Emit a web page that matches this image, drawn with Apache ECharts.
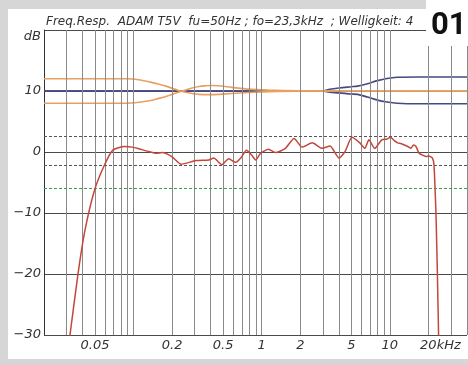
<!DOCTYPE html>
<html>
<head>
<meta charset="utf-8">
<script src="https://cdn.jsdelivr.net/npm/echarts@6/dist/echarts.min.js"></script>
<style>
  html, body { margin: 0; padding: 0; background: #d6d6d6; }
  #chart { width: 468px; height: 365px; }
</style>
</head>
<body>
<div id="chart"></div>
<script>
// Frequenzgang, Frequenz in kHz, Pegel in dB
const respFreq = [0.031, 0.0369, 0.0416, 0.0497, 0.0594, 0.0689, 0.0849, 0.098, 0.111, 0.133,
  0.150, 0.167, 0.2, 0.235, 0.307, 0.387, 0.423, 0.488, 0.553, 0.627,
  0.686, 0.762, 0.834, 0.896, 0.98, 1.13, 1.28, 1.53, 1.79, 2.07,
  2.48, 2.96, 3.42, 4.01, 4.47, 5.06, 5.83, 6.38, 6.86, 7.62,
  8.65, 9.44, 10.1, 10.84, 11.5, 12.2, 13.0, 13.8, 14.6, 15.3,
  16.0, 16.9, 18.0, 19.1, 20.2, 21.5, 22.1, 22.5, 22.9, 23.5, 24.1];
const respDb = [-32, -19.9, -13.0, -6.2, -2.1, 0.3, 0.9, 0.8, 0.5, 0.05,
  -0.2, -0.1, -0.8, -2.0, -1.4, -1.3, -1.0, -2.1, -1.1, -1.7,
  -1.0, 0.3, -0.5, -1.3, -0.2, 0.45, -0.1, 0.6, 2.2, 0.8,
  1.5, 0.6, 1.0, -1.0, 0.05, 2.4, 1.5, 0.6, 2.0, 0.6,
  2.0, 2.1, 2.4, 1.85, 1.5, 1.4, 1.15, 0.9, 0.6, 1.15,
  0.9, -0.2, -0.5, -0.75, -0.65, -1.0, -2.1, -5.7, -10, -20, -32];

// Bass-Einsteller (orange)
const bassFreq = [0.02, 0.088, 0.11, 0.133, 0.155, 0.179, 0.227, 0.286, 0.324, 0.367,
  0.408, 0.463, 0.584, 0.791, 1.13, 1.93, 3.3, 40];
const bassHi = [12, 12, 11.85, 11.5, 11.15, 10.8, 10.05, 9.6, 9.45, 9.4,
  9.4, 9.45, 9.6, 9.75, 9.9, 9.97, 10, 10];
const bassLo = [8, 8, 8.15, 8.4, 8.75, 9.1, 9.85, 10.5, 10.75, 10.85,
  10.9, 10.85, 10.6, 10.3, 10.15, 10.05, 10, 10];

// Hochton-Einsteller (blau)
const trebFreq = [0.02, 2.96, 3.4, 4.0, 5.0, 5.6, 6.7, 8.0, 9.5, 11.4, 16.5, 40];
const trebHi = [10, 10, 10.3, 10.5, 10.7, 10.8, 11.2, 11.7, 12.05, 12.25, 12.3, 12.3];
const trebLo = [10, 10, 9.8, 9.7, 9.5, 9.45, 9.0, 8.5, 8.2, 8.0, 7.9, 7.9];

// Toleranzlinien
const tolLines = [2.6, -2.1];
const minus6 = -6;

// Raster und Beschriftung der Frequenzachse
const gridFreqs = [0.03, 0.04, 0.05, 0.06, 0.07, 0.08, 0.09, 0.1,
  0.2, 0.3, 0.4, 0.5, 0.6, 0.7, 0.8, 0.9, 1,
  2, 3, 4, 5, 6, 7, 8, 9, 10, 20, 30, 40];
const freqLabels = [0.05, 0.2, 0.5, 1, 2, 5, 10, 20];
const freqLabelText = ['0.05', '0.2', '0.5', '1', '2', '5', '10', '20kHz'];

const titleText = 'Freq.Resp.  ADAM T5V  fu=50Hz ; fo=23,3kHz  ; Welligkeit: 4';

const FONT = 'DejaVu Sans';
const pairs = (xs, ys) => xs.map((x, i) => [x, ys[i]]);

const chart = echarts.init(document.getElementById('chart'));

const vLines = gridFreqs.map(f => {
  const k = freqLabels.indexOf(f);
  const item = { xAxis: f };
  if (k >= 0) {
    item.label = {
      show: true,
      position: 'start',
      formatter: freqLabelText[k],
      offset: k === freqLabels.length - 1 ? [12, 0] : [0, 0]
    };
  }
  return item;
});

const option = {
  backgroundColor: '#d6d6d6',
  animation: false,
  title: {
    text: titleText,
    left: 41,
    top: 11,
    textStyle: { fontFamily: FONT, fontStyle: 'italic', fontWeight: 'normal', fontSize: 12, color: '#333' }
  },
  grid: { left: 44, right: 1, top: 30, bottom: 30 },
  xAxis: {
    type: 'log',
    logBase: 10,
    min: 0.02,
    max: 40,
    axisLine: { show: false },
    axisTick: { show: false },
    axisLabel: { show: false },
    splitLine: { show: false }
  },
  yAxis: {
    type: 'value',
    min: -30,
    max: 20,
    interval: 10,
    name: 'dB',
    nameLocation: 'end',
    nameGap: -7,
    nameTextStyle: { fontFamily: FONT, fontStyle: 'italic', fontSize: 13, color: '#333', align: 'right', verticalAlign: 'middle', padding: [0, 3, 0, 0] },
    axisLine: { show: true, lineStyle: { color: '#333', width: 1 } },
    axisTick: { show: false },
    axisLabel: {
      margin: 3,
      fontFamily: FONT, fontStyle: 'italic', fontSize: 13, color: '#333',
      formatter: v => v === 20 ? '' : (v < 0 ? '\u2212' + Math.abs(v) : String(v))
    },
    splitLine: { show: true, lineStyle: { color: '#4a4a4a', width: 1 } }
  },
  series: [
    {
      // Raster
      type: 'line',
      data: [],
      z: 1,
      silent: true,
      markLine: {
        silent: true,
        symbol: ['none', 'none'],
        animation: false,
        lineStyle: { color: '#8a8a8a', type: 'solid', width: 1 },
        label: { show: false, fontFamily: FONT, fontStyle: 'italic', fontSize: 13, color: '#333', distance: 4 },
        emphasis: { disabled: true },
        data: vLines
      }
    },
    {
      type: 'line',
      data: [],
      z: 2,
      silent: true,
      markLine: {
        silent: true,
        symbol: ['none', 'none'],
        animation: false,
        label: { show: false },
        emphasis: { disabled: true },
        data: tolLines.map(v => ({ yAxis: v, lineStyle: { color: '#555', type: [3, 2], width: 1 } }))
          .concat([{ yAxis: minus6, lineStyle: { color: '#3e9a4e', type: [3, 2], width: 1 } }])
      }
    },
    {
      type: 'line', data: pairs(trebFreq, trebHi), smooth: 0.3, showSymbol: false, z: 3,
      lineStyle: { color: '#454a82', width: 1.6 }
    },
    {
      type: 'line', data: pairs(trebFreq, trebLo), smooth: 0.3, showSymbol: false, z: 3,
      lineStyle: { color: '#454a82', width: 1.6 }
    },
    {
      type: 'line', data: pairs(bassFreq, bassHi), smooth: 0.3, showSymbol: false, z: 4,
      lineStyle: { color: '#e8a062', width: 1.6 }
    },
    {
      type: 'line', data: pairs(bassFreq, bassLo), smooth: 0.3, showSymbol: false, z: 4,
      lineStyle: { color: '#e8a062', width: 1.6 }
    },
    {
      type: 'line', data: pairs(respFreq, respDb), smooth: 0.2, showSymbol: false, z: 5,
      clip: true,
      lineStyle: { color: '#c4473c', width: 1.5 }
    }
  ],
  graphic: [
    { type: 'rect', z: -10, silent: true, shape: { x: 8, y: 9, width: 460, height: 350 }, style: { fill: '#fff' } },
    { type: 'rect', z: 100, silent: true, shape: { x: 426, y: 0, width: 42, height: 46 }, style: { fill: '#fff' } },
    {
      type: 'text', z: 101, silent: true, left: 431, top: 11,
      style: { text: '01', fontFamily: 'Liberation Sans Narrow, Roboto, sans-serif', fontWeight: 'bold', fontSize: 31, fill: '#111' }
    }
  ]
};

chart.setOption(option);
</script>
</body>
</html>
